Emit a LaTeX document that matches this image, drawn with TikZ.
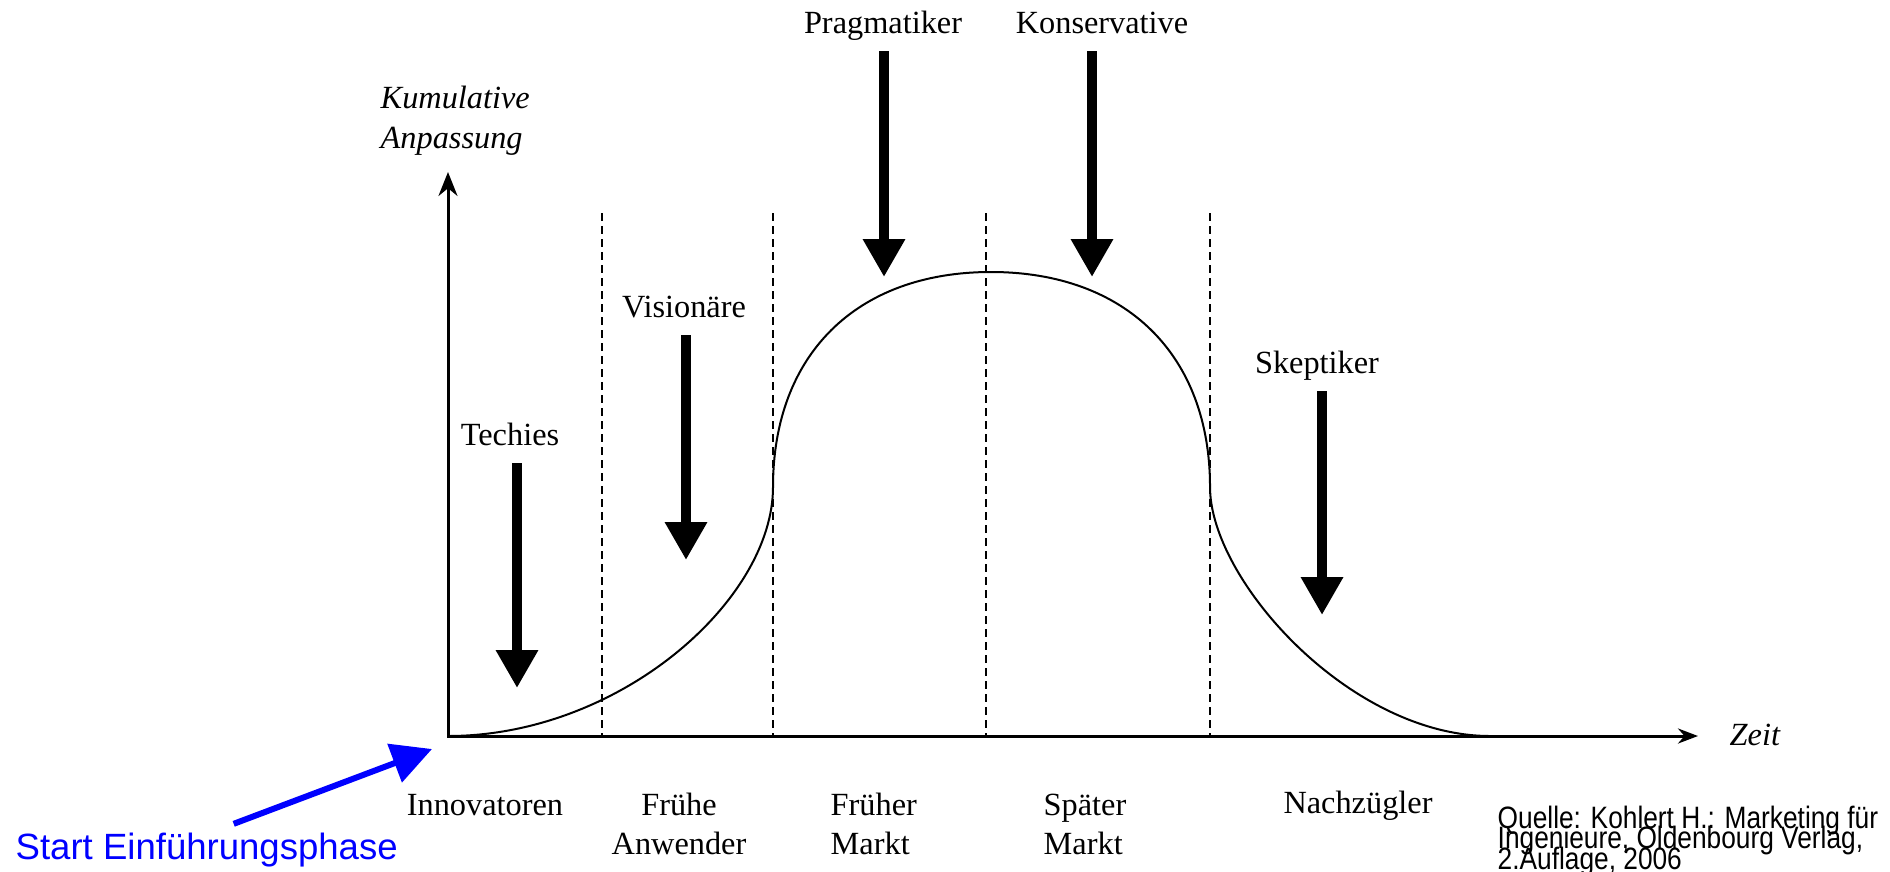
\documentclass[tikz,border=0pt]{standalone}
\usepackage{fontspec}
\setmainfont{Liberation Serif}
\newfontfamily\sansfont{Liberation Sans}
\newfontfamily\narrowsans[FakeStretch=0.85]{Liberation Sans}
\newcommand{\quellefont}{\narrowsans\fontsize{8.8}{5.7}\selectfont\lineskiplimit=-100pt\relax}
\usetikzlibrary{arrows.meta,
                calc,
                positioning}

\begin{document}
\begin{tikzpicture}[
            x = 0.1mm, y = -0.1mm,
            every node/.style = {inner sep=0pt, font=\fontsize{9.2}{11.1}\selectfont},
            lbl/.style = {anchor=base},
            phase/.style = {anchor=base, align=center},
            phaseleft/.style = {anchor=base west, align=left},
            axislbl/.style = {anchor=base west, align=left,
                    font=\fontsize{9.2}{11.1}\selectfont\itshape},
            axis/.style = {line width=0.3mm,
                    arrows={Stealth[length=2.4mm, width=1.9mm]-Stealth[length=2mm, width=1.5mm]}},
            divider/.style = {line width=0.2mm, dash pattern=on 0.8mm off 0.5mm},
            bell/.style = {line width=0.2mm},
            group/.style = {line width=1mm, arrows={-Triangle[length=3.8mm, width=4mm]}},
            hint/.style = {blue, line width=0.6mm, arrows={-Triangle[length=4mm, width=4mm]}}]

        \useasboundingbox (0,0) rectangle (1890,871);

        % axes
        \coordinate (O) at (448,736);
        \coordinate (Y) at (448,172);
        \coordinate (X) at (1698,736);
        \draw [axis] (Y) -- (O) -- (X);
        \node [axislbl] (anp)  at (380,148)  {Kumulative\\Anpassung};
        \node [axislbl] (zeit) at (1729,745) {Zeit};

        % phase borders
        \foreach \x in {602,773,986,1210}
            \draw [divider] (\x,213) -- (\x,736);

        % bell curve
        \draw [bell] (O) .. controls (620,736) and (773,600) .. (773,487)
            .. controls (773,355) and (856,272) .. (991,272)
            .. controls (1126,272) and (1210,355) .. (1210,487)
            .. controls (1210,580) and (1350,736) .. (1490,736);

        % groups
        \node [lbl] (G-1) at (510,445)  {Techies};
        \node [lbl] (G-2) at (684,317)  {Visionäre};
        \node [lbl] (G-3) at (883,33)   {Pragmatiker};
        \node [lbl] (G-4) at (1102,33)  {Konservative};
        \node [lbl] (G-5) at (1317,373) {Skeptiker};
        \coordinate (T-1) at (517,688);
        \coordinate (T-2) at (686,560);
        \coordinate (T-3) at (884,277);
        \coordinate (T-4) at (1092,277);
        \coordinate (T-5) at (1322,615);
        \foreach \i in {1,...,5}
            \draw [group] (T-\i |- G-\i.base) ++(0,18) -- (T-\i);

        % phases (base = last line)
        \node [phase]     (P-1) at (485,815)  {Innovatoren};
        \node [phase]     (P-2) at (679,854)  {Frühe\\Anwender};
        \node [phaseleft] (P-3) at (830,854)  {Früher\\Markt};
        \node [phaseleft] (P-4) at (1043,854) {Später\\Markt};
        \node [phase]     (P-5) at (1358,813) {Nachzügler};

        % start and source
        \node [anchor=base west, blue, font=\sansfont\fontsize{10.4}{12}\selectfont]
            (start) at (15,859) {Start Einführungsphase};
        \coordinate (starttip) at (432,749);
        \draw [hint] ($(start.north)+(27,-8)$) -- (starttip);
        \node [anchor=base west, align=left, font=\quellefont]
            (quelle) at (1497,869) {Quelle: Kohlert H.: Marketing für\\Ingenieure, Oldenbourg Verlag,\\2.Auflage, 2006};
\end{tikzpicture}
\end{document}
